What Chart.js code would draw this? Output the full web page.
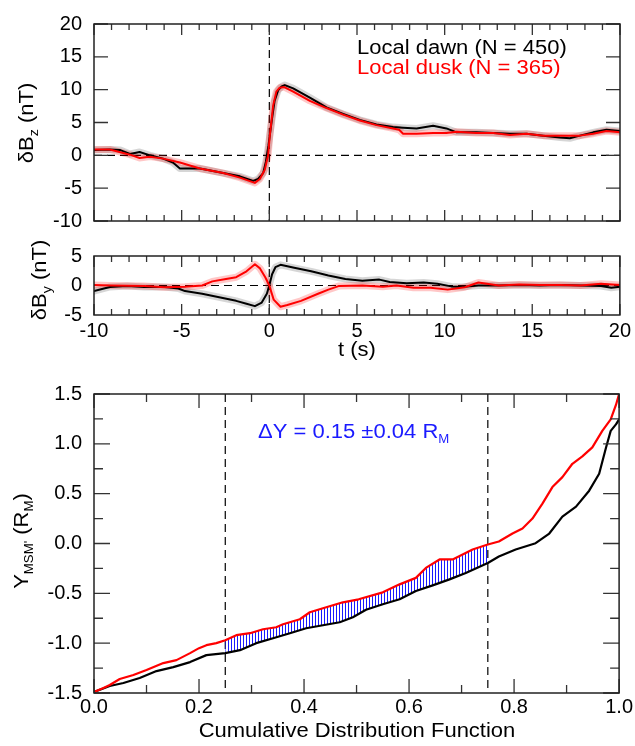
<!DOCTYPE html>
<html><head><meta charset="utf-8">
<script src="https://cdn.jsdelivr.net/npm/chart.js@4.4.1/dist/chart.umd.min.js"></script>
<style>
html,body{margin:0;padding:0;background:#fff;}
#wrap{position:relative;width:635px;height:746px;overflow:hidden;background:#fff;}
canvas{position:absolute;left:0;}
</style></head><body>
<div id="wrap">
<canvas id="c1" width="635" height="245" style="top:0px"></canvas>
<canvas id="c2" width="635" height="138" style="top:232px"></canvas>
<canvas id="c3" width="635" height="376" style="top:370px"></canvas>
</div>
<script>
// ---------------- DATA ----------------
// Panel 1: dBz (nT) vs t (s)
const tBzDawn = [-10,-9.1,-8.5,-7.95,-7.4,-6.8,-6.06,-5.5,-5.1,-4.5,-3.96,-3.58,-2.63,-1.68,-0.92,-0.64,-0.35,-0.2,-0.05,0.15,0.3,0.5,0.7,0.88,1.36,2.31,3.26,4.21,5.16,6.11,7.06,7.63,8.4,9.34,10.1,10.68,11.8,12.77,13.72,14.67,15.62,16.57,17.14,17.71,18.47,19.23,20];
const bzDawn  = [0.8,0.9,0.8,0.2,0.5,0,-0.5,-1.1,-2.0,-2.0,-2.0,-2.2,-2.7,-3.2,-3.9,-3.6,-2.7,-1.0,1.5,5.5,8.3,9.9,10.5,10.7,10.2,8.8,7.3,6.3,5.4,4.7,4.3,4.2,4.1,4.5,4.1,3.5,3.5,3.4,3.3,3.3,3.0,2.7,2.6,3.0,3.5,3.9,3.7];
const tBzDusk = [-10,-9.1,-7.95,-7.4,-6.8,-6.06,-5.1,-3.96,-2.63,-1.68,-0.83,-0.54,-0.26,-0.07,0.02,0.22,0.4,0.59,0.85,1.36,2.31,3.26,4.21,5.16,6.11,7.06,7.4,7.63,8.4,9.34,10.1,10.68,11.8,12.77,13.72,14.67,15.62,16.57,17.14,17.71,18.47,19.23,20];
const bzDusk  = [0.9,0.9,0.1,-0.4,-0.2,-0.5,-1.1,-2.0,-2.7,-3.4,-4.2,-3.6,-2.2,0,2.8,7.6,9.7,10.3,10.4,9.7,8.3,7.2,6.2,5.3,4.6,4.1,3.9,3.3,3.3,3.4,3.4,3.6,3.4,3.4,3.1,3.3,3.0,3.0,3.0,3.0,3.3,3.7,3.5];
// Panel 2: dBy (nT) vs t (s)
const tByDawn = [-10,-9.09,-8.11,-7.14,-5.97,-5.19,-4.81,-3.83,-2.86,-1.89,-1.3,-0.82,-0.43,-0.14,0,0.16,0.35,0.64,1.42,2.39,3.37,4.34,5.31,6.28,6.87,7.84,8.81,9.59,10.37,10.95,11.93,13.09,14.26,15.43,16.6,17.76,18.93,19.51,20];
const byDawn  = [-0.95,-0.24,-0.1,-0.24,-0.24,-0.5,-0.95,-1.4,-2.0,-2.6,-3.1,-3.5,-2.9,-1.4,0,1.9,3.1,3.5,3.0,2.4,1.7,1.1,0.8,1.0,0.6,0.4,0.5,0.3,-0.15,-0.24,0,0,0.1,0,0.1,0,-0.1,-0.4,-0.2];
const tByDusk = [-10,-9.09,-7.14,-5.97,-4.81,-3.83,-3.25,-2.47,-1.89,-1.3,-0.82,-0.53,-0.23,0,0.25,0.64,1.03,1.81,2.78,3.37,3.95,5.31,6.48,7.26,8.23,9.2,10.18,11.15,11.93,13.09,14.26,15.43,16.6,17.76,18.93,20];
const byDusk  = [0.1,0,-0.1,-0.3,-0.2,0,0.7,1.1,1.4,2.4,3.6,2.9,1.4,0,-2.4,-3.6,-3.3,-2.6,-1.4,-0.7,-0.1,0,-0.2,0,-0.4,-0.4,-0.7,-0.3,0.5,0,0.15,0.1,0.1,0,0.3,0.1];
// Panel 3: Y_MSM' (R_M) vs cumulative distribution function
const cdfDawnX = [0,0.03,0.056,0.087,0.119,0.151,0.183,0.214,0.25,0.278,0.309,0.341,0.373,0.404,0.436,0.468,0.493,0.518,0.55,0.582,0.613,0.645,0.677,0.708,0.75,0.771,0.803,0.841,0.867,0.892,0.918,0.943,0.962,0.975,0.984,0.994,1.0];
const cdfDawnY = [-1.49,-1.43,-1.40,-1.35,-1.28,-1.24,-1.19,-1.12,-1.10,-1.07,-1.0,-0.95,-0.90,-0.85,-0.82,-0.79,-0.74,-0.665,-0.61,-0.56,-0.477,-0.42,-0.36,-0.295,-0.195,-0.13,-0.06,0.003,0.10,0.27,0.37,0.53,0.70,0.96,1.13,1.195,1.245];
const cdfDuskX = [0,0.018,0.03,0.049,0.075,0.1,0.132,0.157,0.183,0.2,0.214,0.233,0.25,0.271,0.297,0.322,0.347,0.36,0.392,0.411,0.436,0.474,0.504,0.55,0.582,0.613,0.632,0.658,0.683,0.702,0.721,0.75,0.771,0.797,0.816,0.835,0.854,0.873,0.892,0.911,0.93,0.949,0.968,0.984,0.994,1.0];
const cdfDuskY = [-1.49,-1.45,-1.42,-1.36,-1.32,-1.27,-1.20,-1.17,-1.10,-1.05,-1.02,-1.0,-0.97,-0.92,-0.90,-0.86,-0.84,-0.81,-0.76,-0.69,-0.65,-0.59,-0.56,-0.49,-0.41,-0.345,-0.245,-0.16,-0.16,-0.11,-0.06,-0.01,0.02,0.10,0.15,0.25,0.40,0.566,0.666,0.80,0.874,0.964,1.13,1.245,1.39,1.5];
const hatchRange = [0.25, 0.75];
// Text
const legendDawn = 'Local dawn (N = 450)';
const legendDusk = 'Local dusk (N = 365)';
const deltaText = 'ΔY = 0.15 ±0.04 R';

// ---------------- HELPERS ----------------
const FONT = '"Liberation Sans", Arial, Helvetica, sans-serif';
Chart.defaults.font.family = FONT;
Chart.defaults.color = '#000';
const SX = 1.1; // horizontal stretch of annotation text

function pts(xs, ys){ return xs.map((x,i)=>({x:x, y:ys[i]})); }
function range(a,b,s){ const r=[]; for(let v=a; v<=b+1e-9; v+=s) r.push(Math.round(v*1000)/1000); return r; }

function rich(ctx, parts, x, y, o){
  o = o || {};
  ctx.save();
  ctx.translate(x,y);
  if (o.rot) ctx.rotate(o.rot);
  ctx.scale(SX,1);
  let w = 0;
  parts.forEach(p=>{ ctx.font = p.size+'px '+FONT; p.w = ctx.measureText(p.t).width; w += p.w; });
  let cx = o.align==='center' ? -w/2 : 0;
  ctx.textAlign='left'; ctx.textBaseline='alphabetic';
  parts.forEach(p=>{ ctx.font = p.size+'px '+FONT; ctx.fillStyle = p.color || o.color || '#000'; ctx.fillText(p.t, cx, p.dy||0); cx += p.w; });
  ctx.restore();
}

function decor(cfg){
  return {
    id:'decor',
    beforeDatasetsDraw(chart){
      const ctx=chart.ctx, a=chart.chartArea, xs=chart.scales.x, ys=chart.scales.y;
      ctx.save();
      ctx.beginPath(); ctx.rect(a.left,a.top,a.right-a.left,a.bottom-a.top); ctx.clip();
      ctx.setLineDash([8,5]); ctx.lineWidth=1.2; ctx.strokeStyle='#000';
      (cfg.vDash||[]).forEach(v=>{ const p=xs.getPixelForValue(v); ctx.beginPath(); ctx.moveTo(p,a.top); ctx.lineTo(p,a.bottom); ctx.stroke(); });
      (cfg.hDash||[]).forEach(v=>{ const p=ys.getPixelForValue(v); ctx.beginPath(); ctx.moveTo(a.left,p); ctx.lineTo(a.right,p); ctx.stroke(); });
      ctx.restore();
    },
    afterDatasetsDraw(chart){
      const ctx=chart.ctx, a=chart.chartArea, xs=chart.scales.x, ys=chart.scales.y;
      ctx.save();
      ctx.strokeStyle='#333'; ctx.lineWidth=1.3; ctx.setLineDash([]);
      (cfg.xTicks||[]).forEach(t=>{
        const p=xs.getPixelForValue(t.v);
        ctx.beginPath(); ctx.moveTo(p,a.top); ctx.lineTo(p,a.top+t.len);
        ctx.moveTo(p,a.bottom); ctx.lineTo(p,a.bottom-t.len); ctx.stroke();
      });
      (cfg.yTicks||[]).forEach(t=>{
        const p=ys.getPixelForValue(t.v);
        ctx.beginPath(); ctx.moveTo(a.left,p); ctx.lineTo(a.left+t.len,p);
        ctx.moveTo(a.right,p); ctx.lineTo(a.right-t.len,p); ctx.stroke();
      });
      ctx.lineWidth=1.5; ctx.strokeStyle='#222';
      ctx.strokeRect(a.left,a.top,a.right-a.left,a.bottom-a.top);
      ctx.restore();
      (cfg.texts||[]).forEach(t=>rich(ctx,t.parts,t.x,t.y,t));
    }
  };
}

const lineDefaults = {pointRadius:0, tension:0, fill:false, borderJoinStyle:'round', borderCapStyle:'round'};
function ds(data, color, width, order, extra){ return Object.assign({data:data, borderColor:color, borderWidth:width, order:order}, lineDefaults, extra||{}); }

function baseOptions(o){
  return {
    responsive:false, maintainAspectRatio:false, animation:false, events:[],
    layout:{padding:o.padding},
    plugins:{legend:{display:false}, tooltip:{enabled:false}},
    scales:{
      x:{type:'linear', min:o.xmin, max:o.xmax, display:o.xDisplay,
         grid:{display:false, drawTicks:false}, border:{display:false},
         ticks:{stepSize:o.xStep, autoSkip:false, maxRotation:0, padding:o.xPad||4, font:{size:20}, color:'#000',
                callback:o.xFmt || (v=>v)},
         afterFit:o.xH!==undefined ? (s=>{s.height=o.xH;}) : undefined},
      y:{type:'linear', min:o.ymin, max:o.ymax,
         grid:{display:false, drawTicks:false}, border:{display:false},
         ticks:{stepSize:o.yStep, autoSkip:false, padding:12, font:{size:20}, color:'#000',
                callback:o.yFmt || (v=>v)},
         afterFit:(s=>{s.width=94;})}
    }
  };
}

const tMinor = range(-10,20,1).map(v=>({v:v, len:(v%5===0)?11:6}));

// ---------------- PANEL 1 ----------------
new Chart(document.getElementById('c1'), {
  type:'line',
  data:{datasets:[
    ds(pts(tBzDusk,bzDusk),'#ff0000',2,1),
    ds(pts(tBzDawn,bzDawn),'#000000',2,2),
    ds(pts(tBzDusk,bzDusk),'rgba(255,0,0,0.22)',7,3),
    ds(pts(tBzDawn,bzDawn),'rgba(0,0,0,0.16)',7,4)
  ]},
  options: baseOptions({padding:{top:18,right:15,bottom:17,left:0}, xmin:-10,xmax:20,xDisplay:false,
     ymin:-10,ymax:20,yStep:5}),
  plugins:[decor({
    vDash:[0], hDash:[0],
    xTicks:tMinor,
    yTicks:range(-10,20,5).map(v=>({v:v,len:14})),
    texts:[
      {parts:[{t:'δB',size:20},{t:'z',size:13,dy:5},{t:' (nT)',size:20}], x:33, y:123, rot:-Math.PI/2, align:'center'},
      {parts:[{t:legendDawn,size:20,color:'#000'}], x:357, y:54},
      {parts:[{t:legendDusk,size:20,color:'#ff0000'}], x:357, y:74}
    ]
  })]
});

// ---------------- PANEL 2 ----------------
new Chart(document.getElementById('c2'), {
  type:'line',
  data:{datasets:[
    ds(pts(tByDusk,byDusk),'#ff0000',2,1),
    ds(pts(tByDawn,byDawn),'#000000',2,2),
    ds(pts(tByDusk,byDusk),'rgba(255,0,0,0.22)',7,3),
    ds(pts(tByDawn,byDawn),'rgba(0,0,0,0.16)',7,4)
  ]},
  options: baseOptions({padding:{top:13,right:15,bottom:0,left:0}, xmin:-10,xmax:20,xDisplay:true,xStep:5,xH:55,xPad:4,
     ymin:-5,ymax:5,yStep:5}),
  plugins:[decor({
    vDash:[0], hDash:[0],
    xTicks:tMinor,
    yTicks:[],
    texts:[
      {parts:[{t:'δB',size:20},{t:'y',size:13,dy:5},{t:' (nT)',size:20}], x:46, y:280-232, rot:-Math.PI/2, align:'center'},
      {parts:[{t:'t (s)',size:20}], x:357, y:356-232, align:'center'}
    ]
  })]
});

// ---------------- PANEL 3 ----------------
const pc=document.createElement('canvas'); pc.width=3; pc.height=3;
const pctx=pc.getContext('2d'); pctx.fillStyle='#1a1aff'; pctx.fillRect(0,0,1,3);
const hatch=pctx.createPattern(pc,'repeat');
const dawnPts=pts(cdfDawnX,cdfDawnY), duskPts=pts(cdfDuskX,cdfDuskY);
const inR=p=>p.x>=hatchRange[0]-1e-9 && p.x<=hatchRange[1]+1e-9;

new Chart(document.getElementById('c3'), {
  type:'line',
  data:{datasets:[
    ds(dawnPts.filter(inR),'rgba(0,0,0,0)',0,6),
    ds(duskPts.filter(inR),'rgba(0,0,0,0)',0,5,{fill:{target:0}, backgroundColor:hatch}),
    ds(dawnPts,'#000000',2.2,2),
    ds(duskPts,'#ff0000',2.2,1)
  ]},
  options: baseOptions({padding:{top:21,right:15,bottom:0,left:0}, xmin:0,xmax:1,xDisplay:true,xStep:0.2,xH:53,xPad:2,
     xFmt:v=>Number(v).toFixed(1), ymin:-1.5,ymax:1.5,yStep:0.5, yFmt:v=>Number(v).toFixed(1)}),
  plugins:[decor({
    vDash:hatchRange,
    xTicks:range(0,1,0.1).map(v=>({v:v,len:(Math.round(v*10)%2===0)?14:8})),
    yTicks:range(-1.5,1.5,0.25).map(v=>({v:v,len:(Math.round(v*4)%2===0)?16:9})),
    texts:[
      {parts:[{t:'Y',size:20},{t:"MSM'",size:12,dy:5},{t:' (R',size:20},{t:'M',size:12,dy:5},{t:')',size:20}], x:28, y:541-370, rot:-Math.PI/2, align:'center'},
      {parts:[{t:'Cumulative Distribution Function',size:20}], x:357, y:737-370, align:'center'},
      {parts:[{t:deltaText,size:20},{t:'M',size:12,dy:5}], x:258, y:438-370, color:'#1a1aff'}
    ]
  })]
});
</script>
</body></html>
